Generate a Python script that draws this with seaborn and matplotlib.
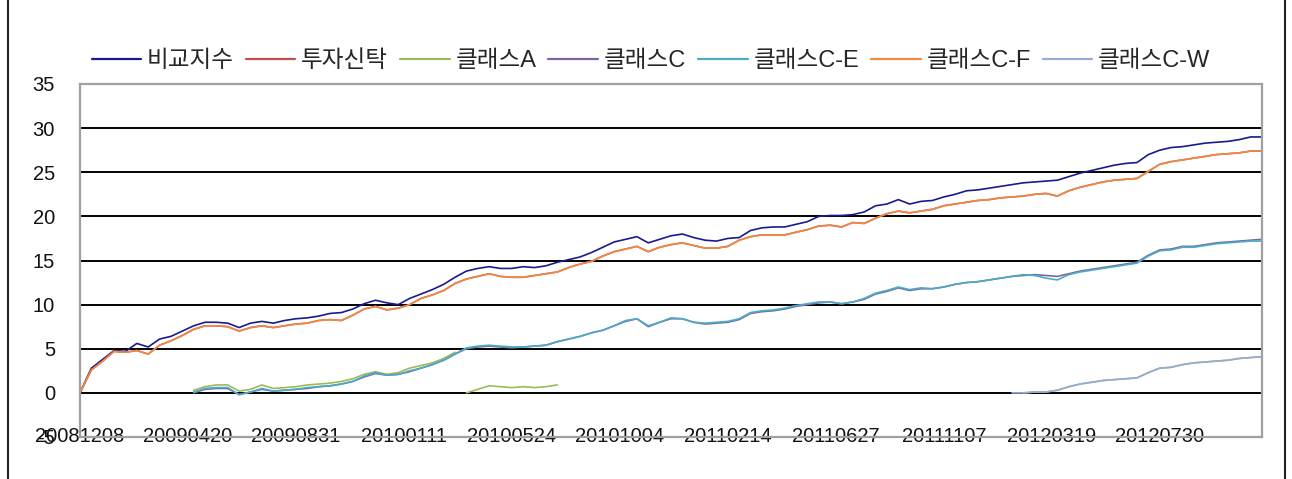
import numpy as np
import pandas as pd
import matplotlib
matplotlib.use("Agg")
import matplotlib.pyplot as plt
from matplotlib.lines import Line2D
import seaborn as sns

tick_labels = ["20081208", "20090420", "20090831", "20100111", "20100524", "20101004",
               "20110214", "20110627", "20111107", "20120319", "20120730"]
tick_days = [0, 95, 190, 285, 380, 475, 570, 665, 760, 855, 950]
sample_day = list(range(0, 1041, 10))  # business-day index of each sample

series_names = ["비교지수", "투자신탁", "클래스A", "클래스C", "클래스C-E", "클래스C-F", "클래스C-W"]
series_colors = ["#1a1a8c", "#c0504d", "#9bbb59", "#8064a2", "#4bacc6", "#ef8a43", "#95abd9"]

bench = [0.0, 2.8, 3.8, 4.8, 4.7, 5.6, 5.2, 6.1, 6.4, 7.0,
         7.6, 8.0, 8.0, 7.9, 7.4, 7.9, 8.1, 7.9, 8.2, 8.4,
         8.5, 8.7, 9.0, 9.1, 9.5, 10.1, 10.5, 10.2, 10.0, 10.7,
         11.2, 11.7, 12.3, 13.1, 13.8, 14.1, 14.3, 14.1, 14.1, 14.3,
         14.2, 14.4, 14.8, 15.1, 15.4, 15.9, 16.5, 17.1, 17.4, 17.7,
         17.0, 17.4, 17.8, 18.0, 17.6, 17.3, 17.2, 17.5, 17.6, 18.4,
         18.7, 18.8, 18.8, 19.1, 19.4, 20.0, 20.1, 20.1, 20.2, 20.5,
         21.2, 21.4, 21.9, 21.4, 21.7, 21.8, 22.2, 22.5, 22.9, 23.0,
         23.2, 23.4, 23.6, 23.8, 23.9, 24.0, 24.1, 24.5, 24.9, 25.2,
         25.5, 25.8, 26.0, 26.1, 27.0, 27.5, 27.8, 27.9, 28.1, 28.3,
         28.4, 28.5, 28.7, 29.0, 29.0]

trust = [0.0, 2.6, 3.6, 4.7, 4.6, 4.8, 4.4, 5.4, 5.9, 6.5,
         7.2, 7.6, 7.6, 7.5, 7.0, 7.4, 7.6, 7.4, 7.6, 7.8,
         7.9, 8.2, 8.3, 8.2, 8.8, 9.5, 9.8, 9.4, 9.6, 10.0,
         10.7, 11.1, 11.6, 12.4, 12.9, 13.2, 13.5, 13.2, 13.1, 13.1,
         13.3, 13.5, 13.7, 14.2, 14.6, 14.9, 15.5, 16.0, 16.3, 16.6,
         16.0, 16.5, 16.8, 17.0, 16.7, 16.4, 16.4, 16.6, 17.3, 17.7,
         17.9, 17.9, 17.9, 18.2, 18.5, 18.9, 19.0, 18.8, 19.3, 19.2,
         19.8, 20.3, 20.6, 20.4, 20.6, 20.8, 21.2, 21.4, 21.6, 21.8,
         21.9, 22.1, 22.2, 22.3, 22.5, 22.6, 22.3, 22.9, 23.3, 23.6,
         23.9, 24.1, 24.2, 24.3, 25.1, 25.9, 26.2, 26.4, 26.6, 26.8,
         27.0, 27.1, 27.2, 27.4, 27.4]

class_cf = [0.0, 2.6, 3.6, 4.7, 4.6, 4.8, 4.4, 5.4, 5.9, 6.5,
            7.2, 7.6, 7.6, 7.5, 7.0, 7.4, 7.6, 7.4, 7.6, 7.8,
            7.9, 8.2, 8.3, 8.2, 8.8, 9.5, 9.8, 9.4, 9.6, 10.0,
            10.7, 11.1, 11.6, 12.4, 12.9, 13.2, 13.5, 13.2, 13.1, 13.1,
            13.3, 13.5, 13.7, 14.2, 14.6, 14.9, 15.5, 16.0, 16.3, 16.6,
            16.0, 16.5, 16.8, 17.0, 16.7, 16.4, 16.4, 16.6, 17.3, 17.7,
            17.9, 17.9, 17.9, 18.2, 18.5, 18.9, 19.0, 18.8, 19.3, 19.2,
            19.8, 20.3, 20.6, 20.4, 20.6, 20.8, 21.2, 21.4, 21.6, 21.8,
            21.9, 22.1, 22.2, 22.3, 22.5, 22.6, 22.3, 22.9, 23.3, 23.6,
            23.9, 24.1, 24.2, 24.3, 25.1, 25.9, 26.2, 26.4, 26.6, 26.8,
            27.0, 27.1, 27.2, 27.4, 27.4]

# class C and C-E start at sample 10
class_c_start = 10
class_c = [0.0, 0.4, 0.5, 0.5, -0.2, 0.1, 0.4, 0.2, 0.3, 0.4,
           0.5, 0.7, 0.8, 1.0, 1.3, 1.8, 2.2, 2.0, 2.1, 2.4,
           2.8, 3.2, 3.7, 4.4, 5.0, 5.2, 5.3, 5.2, 5.1, 5.2,
           5.3, 5.4, 5.8, 6.1, 6.4, 6.8, 7.1, 7.6, 8.1, 8.4,
           7.5, 8.0, 8.4, 8.4, 8.0, 7.8, 7.9, 8.0, 8.3, 9.0,
           9.2, 9.3, 9.5, 9.8, 10.0, 10.2, 10.3, 10.1, 10.3, 10.6,
           11.2, 11.5, 11.9, 11.6, 11.8, 11.8, 12.0, 12.3, 12.5, 12.6,
           12.8, 13.0, 13.2, 13.3, 13.4, 13.3, 13.2, 13.5, 13.8, 14.0,
           14.2, 14.4, 14.6, 14.8, 15.6, 16.2, 16.3, 16.6, 16.6, 16.8,
           17.0, 17.1, 17.2, 17.3, 17.4]
class_ce = [0.1, 0.5, 0.6, 0.6, -0.2, 0.1, 0.5, 0.2, 0.3, 0.4,
            0.6, 0.7, 0.8, 1.0, 1.3, 1.9, 2.3, 2.0, 2.1, 2.5,
            2.8, 3.2, 3.7, 4.4, 5.1, 5.3, 5.4, 5.3, 5.2, 5.2,
            5.3, 5.4, 5.8, 6.1, 6.4, 6.8, 7.1, 7.6, 8.2, 8.4,
            7.6, 8.0, 8.5, 8.4, 8.0, 7.9, 8.0, 8.1, 8.4, 9.1,
            9.3, 9.4, 9.6, 9.9, 10.1, 10.3, 10.3, 10.1, 10.3, 10.7,
            11.3, 11.6, 12.0, 11.7, 11.9, 11.8, 12.0, 12.3, 12.5, 12.6,
            12.8, 13.0, 13.2, 13.4, 13.3, 13.0, 12.8, 13.4, 13.7, 13.9,
            14.1, 14.3, 14.5, 14.7, 15.5, 16.1, 16.2, 16.5, 16.5, 16.7,
            16.9, 17.0, 17.1, 17.2, 17.2]

# class A appears in three separate runs
class_a_starts = [10, 34, 83]
class_a_runs = [
    [0.3, 0.7, 0.9, 0.9, 0.2, 0.4, 0.9, 0.5, 0.6, 0.7,
     0.9, 1.0, 1.1, 1.3, 1.6, 2.1, 2.4, 2.1, 2.3, 2.8,
     3.1, 3.4, 3.9, 4.6],
    [0.0, 0.4, 0.8, 0.7, 0.6, 0.7, 0.6, 0.7, 0.9],
    [0.0, 0.1, 0.1, 0.3, 0.7, 1.0, 1.2, 1.4, 1.5, 1.6, 1.7,
     2.3, 2.8, 2.9, 3.2, 3.4, 3.5, 3.6, 3.7, 3.9, 4.0, 4.1],
]

class_cw_start = 82
class_cw = [0.0, 0.0, 0.1, 0.1, 0.3, 0.7, 1.0, 1.2, 1.4, 1.5, 1.6, 1.7,
            2.3, 2.8, 2.9, 3.2, 3.4, 3.5, 3.6, 3.7, 3.9, 4.0, 4.1]

# ---- build run list (series name, start sample, values) in Excel drawing order ----
runs = [("비교지수", 0, bench), ("투자신탁", 0, trust)]
for s, v in zip(class_a_starts, class_a_runs):
    runs.append(("클래스A", s, v))
runs += [("클래스C", class_c_start, class_c),
         ("클래스C-E", class_c_start, class_ce),
         ("클래스C-F", 0, class_cf),
         ("클래스C-W", class_cw_start, class_cw)]

sns.set_style("white")
plt.rcParams["font.family"] = ["Liberation Sans", "Noto Sans CJK KR", "DejaVu Sans"]
plt.rcParams["axes.unicode_minus"] = False

W, H = 1292, 479
fig = plt.figure(figsize=(W / 100, H / 100), dpi=100)
ax = fig.add_axes([80 / W, 1 - 437 / H, 1182 / W, 353 / H])

color_of = dict(zip(series_names, series_colors))
for name, start, vals in runs:
    df = pd.DataFrame({"day": sample_day[start:start + len(vals)], "value": vals})
    sns.lineplot(data=df, x="day", y="value", ax=ax, color=color_of[name],
                 linewidth=1.2, estimator=None, legend=False, sort=False)

ax.set_xlim(0, 1040)
ax.set_ylim(-5, 35)
ax.set_yticks(range(-5, 36, 5))
ax.set_yticklabels([str(v) for v in range(-5, 36, 5)])
ax.set_xticks(tick_days)
ax.set_xticklabels(tick_labels)
ax.set_xlabel("")
ax.set_ylabel("")
ax.tick_params(axis="both", length=0, labelsize=14.5, colors="#111111")
ax.tick_params(axis="y", pad=18)
ax.tick_params(axis="x", pad=-7)

ax.yaxis.grid(True, color="black", linewidth=1.4)
ax.xaxis.grid(False)
ax.set_axisbelow(True)
gl = ax.get_ygridlines()
gl[0].set_visible(False)
gl[-1].set_visible(False)
for sp in ax.spines.values():
    sp.set_visible(True)
    sp.set_color("#a0a0a0")
    sp.set_linewidth(1.6)

handles = [Line2D([], [], color=c, linewidth=1.6) for c in series_colors]
fig.legend(handles, series_names, loc="center", ncol=7,
           bbox_to_anchor=(651 / W, 1 - 61 / H), frameon=False,
           fontsize=17, handlelength=2.1, handletextpad=0.25,
           columnspacing=0.5)

for xp in (8, 1285):
    fig.add_artist(Line2D([xp / W, xp / W], [0, 1], color="#222222",
                          linewidth=1.5, transform=fig.transFigure))

fig.savefig("out.png", dpi=100)
